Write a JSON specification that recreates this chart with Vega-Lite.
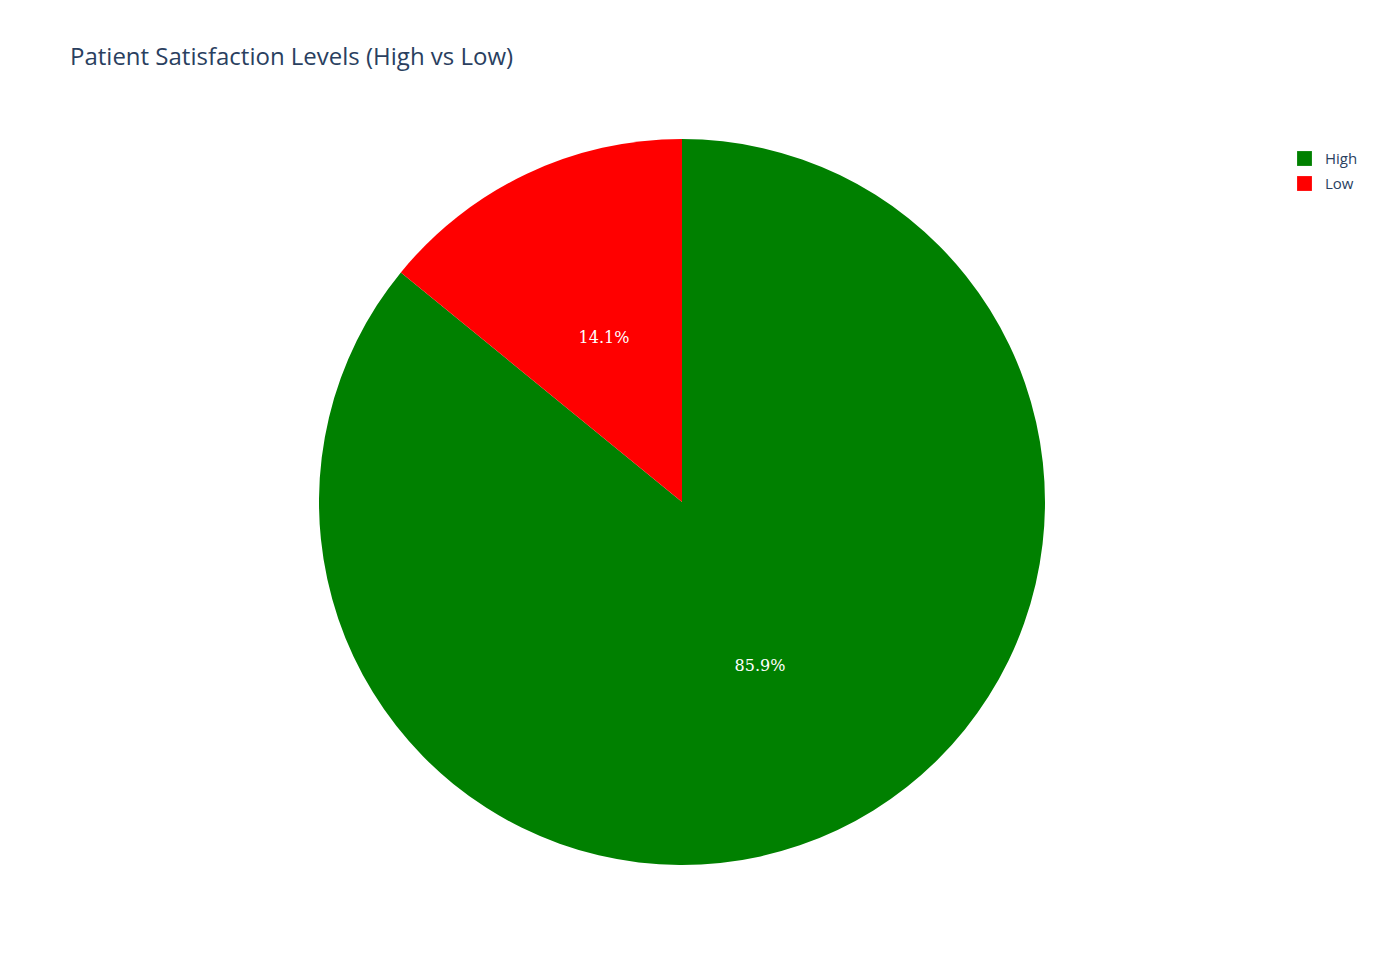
{
  "$schema": "https://vega.github.io/schema/vega-lite/v6.json",
  "autosize": {"type": "none"},
  "padding": 0,
  "width": 1364,
  "height": 1004,
  "background": "white",
  "title": {"text": "Patient Satisfaction Levels (High vs Low)", "anchor": "start", "frame": "group", "dx": 70, "dy": 70, "offset": 0, "fontSize": 24, "font": "Open Sans", "fontWeight": "normal", "color": "#2a3f5f"},
  "data": {"values": [
    {"level": "High", "pct": 85.9, "label": "85.9%"},
    {"level": "Low", "pct": 14.1, "label": "14.1%"}
  ]},
  "encoding": {
    "theta": {"field": "pct", "type": "quantitative", "stack": true},
    "order": {"field": "pct", "type": "quantitative", "sort": "descending"}
  },
  "layer": [
    {
      "mark": {"type": "arc", "outerRadius": 363},
      "encoding": {
        "color": {"field": "level", "type": "nominal",
          "scale": {"domain": ["High", "Low"], "range": ["green", "red"]},
          "legend": {"title": null, "orient": "none", "legendX": 1296, "legendY": 150, "symbolType": "square", "symbolSize": 220, "labelFontSize": 15, "labelFont": "Open Sans", "labelColor": "#2a3f5f", "rowPadding": 8, "labelOffset": 12}
        }
      }
    },
    {
      "mark": {"type": "text", "radius": 182, "color": "white", "fontSize": 16, "font": "DejaVu Serif"},
      "encoding": {"text": {"field": "label"}}
    }
  ]
}
